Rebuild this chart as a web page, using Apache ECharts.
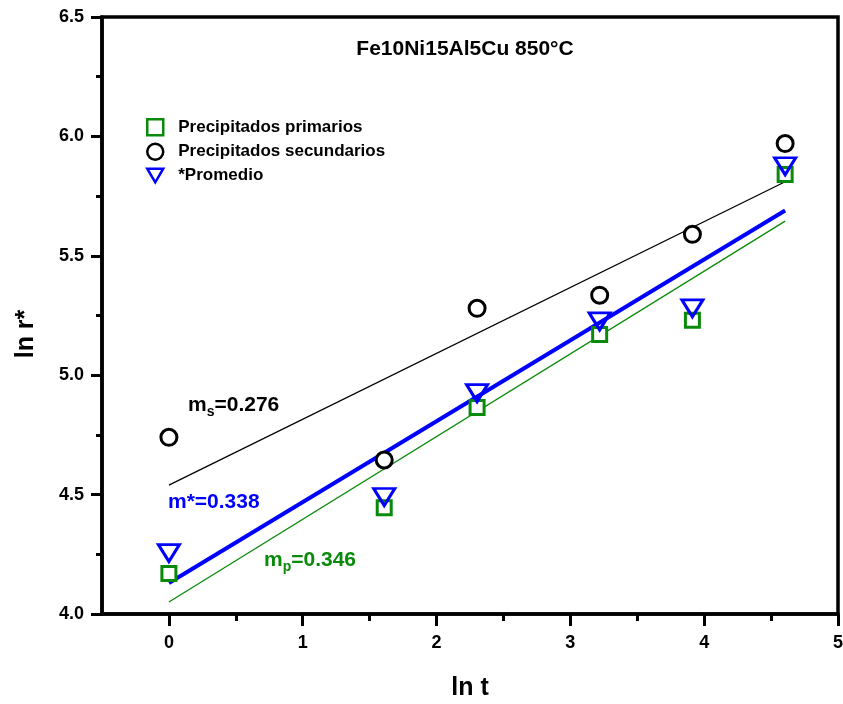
<!DOCTYPE html>
<html>
<head>
<meta charset="utf-8">
<script src="https://cdn.jsdelivr.net/npm/echarts@6/dist/echarts.min.js"></script>
<style>
  html, body { margin: 0; padding: 0; background: #fff; }
  #chart { width: 843px; height: 704px; }
</style>
</head>
<body>
<div id="chart"></div>
<script>
// ln t for t = 1, 5, 10, 25, 50, 100
const lnT = [0, 1.609, 2.303, 3.219, 3.912, 4.605];
const rPrimarios = [4.17, 4.445, 4.865, 5.17, 5.23, 5.84];
const rSecundarios = [4.74, 4.645, 5.28, 5.335, 5.59, 5.97];
const rPromedio = [4.255, 4.49, 4.925, 5.225, 5.28, 5.875];

// linear fits: end points over the ln t range
const fitX = [0, 4.605];
const fitSecundarios = [4.54, 5.81];
const fitPromedio = [4.13, 5.69];
const fitPrimarios = [4.05, 5.645];

const xMajorTicks = [0, 1, 2, 3, 4, 5];
const xMinorTicks = [0.5, 1.5, 2.5, 3.5, 4.5];

const FONT = 'Liberation Sans, Arial, sans-serif';
const GREEN = '#0a8a0a';
const BLUE = '#0000ff';
const DOWN_TRIANGLE = 'path://M0,0L20,0L10,17Z';

const pairs = (xs, ys) => xs.map((x, i) => [x, ys[i]]);

const chart = echarts.init(document.getElementById('chart'));

chart.setOption({
  animation: false,
  backgroundColor: '#fff',
  grid: {
    left: 102, right: 5, top: 17, bottom: 90,
    outerBoundsMode: 'none',
    show: true, borderColor: '#000', borderWidth: 3.5, backgroundColor: 'transparent'
  },
  xAxis: [
    {
      type: 'value', min: -0.5, max: 5, interval: 0.5, position: 'bottom',
      axisLine: { show: true, onZero: false, lineStyle: { color: '#000', width: 3.5 } },
      axisTick: { show: true, customValues: xMajorTicks, length: 12, lineStyle: { color: '#000', width: 3 } },
      axisLabel: {
        customValues: xMajorTicks, margin: 20,
        color: '#000', fontFamily: FONT, fontWeight: 'bold', fontSize: 18
      },
      splitLine: { show: false }
    },
    {
      type: 'value', min: -0.5, max: 5, interval: 0.5, position: 'bottom', gridIndex: 0,
      axisLine: { show: false, onZero: false },
      axisTick: { show: true, customValues: xMinorTicks, length: 7, lineStyle: { color: '#000', width: 3 } },
      axisLabel: { show: false },
      splitLine: { show: false }
    }
  ],
  yAxis: {
    type: 'value', min: 4, max: 6.5, interval: 0.5,
    axisLine: { show: true, onZero: false, lineStyle: { color: '#000', width: 3.5 } },
    axisTick: { show: true, length: 11, lineStyle: { color: '#000', width: 3 } },
    minorTick: { show: true, splitNumber: 2, length: 6, lineStyle: { color: '#000', width: 3 } },
    axisLabel: {
      margin: 18, color: '#000', fontFamily: FONT, fontWeight: 'bold', fontSize: 18,
      formatter: v => v.toFixed(1)
    },
    splitLine: { show: false },
    minorSplitLine: { show: false }
  },
  legend: {
    orient: 'vertical', left: 141, top: 113,
    itemWidth: 16, itemHeight: 16, itemGap: 6,
    itemStyle: { borderWidth: 2.5 },
    textStyle: { color: '#000', fontFamily: FONT, fontWeight: 'bold', fontSize: 17, padding: [0, 0, 0, 10] },
    data: ['Precipitados primarios', 'Precipitados secundarios', '*Promedio']
  },
  series: [
    {
      name: 'fitSecundarios', type: 'line', data: pairs(fitX, fitSecundarios),
      showSymbol: false, symbol: 'none', lineStyle: { color: '#000', width: 1.3 }, z: 2, silent: true
    },
    {
      name: 'fitPrimarios', type: 'line', data: pairs(fitX, fitPrimarios),
      showSymbol: false, symbol: 'none', lineStyle: { color: GREEN, width: 1.3 }, z: 2, silent: true
    },
    {
      name: 'fitPromedio', type: 'line', data: pairs(fitX, fitPromedio),
      showSymbol: false, symbol: 'none', lineStyle: { color: BLUE, width: 4 }, z: 3, silent: true
    },
    {
      name: 'Precipitados primarios', type: 'scatter', data: pairs(lnT, rPrimarios),
      symbol: 'rect', symbolSize: 14,
      itemStyle: { color: '#fff', borderColor: GREEN, borderWidth: 3, opacity: 1 }, z: 4
    },
    {
      name: 'Precipitados secundarios', type: 'scatter', data: pairs(lnT, rSecundarios),
      symbol: 'circle', symbolSize: 16,
      itemStyle: { color: '#fff', borderColor: '#000', borderWidth: 3, opacity: 1 }, z: 4
    },
    {
      name: '*Promedio', type: 'scatter', data: pairs(lnT, rPromedio),
      symbol: DOWN_TRIANGLE, symbolSize: [21, 17],
      itemStyle: { color: 'rgba(255,255,255,0)', borderColor: BLUE, borderWidth: 3, opacity: 1 }, z: 5
    }
  ],
  graphic: [
    {
      type: 'text', x: 465, y: 49, z: 10,
      style: {
        text: 'Fe10Ni15Al5Cu 850°C', align: 'center', verticalAlign: 'middle',
        font: 'bold 21px ' + FONT, fill: '#000'
      }
    },
    {
      type: 'text', x: 470, y: 688, z: 10,
      style: { text: 'ln t', align: 'center', verticalAlign: 'middle', font: 'bold 25px ' + FONT, fill: '#000' }
    },
    {
      type: 'text', x: 26, y: 334, rotation: Math.PI / 2, z: 10,
      style: { text: 'ln r*', align: 'center', verticalAlign: 'middle', font: 'bold 25px ' + FONT, fill: '#000' }
    },
    {
      type: 'text', x: 188, y: 405, z: 10,
      style: {
        text: '{m|m}{s|s}{m|=0.276}', verticalAlign: 'middle',
        rich: {
          m: { font: 'bold 21px ' + FONT, fill: '#000' },
          s: { font: 'bold 14px ' + FONT, fill: '#000', padding: [14, 0, 0, 0] }
        }
      }
    },
    {
      type: 'text', x: 168, y: 502, z: 10,
      style: { text: 'm*=0.338', verticalAlign: 'middle', font: 'bold 21px ' + FONT, fill: BLUE }
    },
    {
      type: 'text', x: 264, y: 560, z: 10,
      style: {
        text: '{m|m}{s|p}{m|=0.346}', verticalAlign: 'middle',
        rich: {
          m: { font: 'bold 21px ' + FONT, fill: GREEN },
          s: { font: 'bold 14px ' + FONT, fill: GREEN, padding: [14, 0, 0, 0] }
        }
      }
    }
  ]
});
</script>
</body>
</html>
